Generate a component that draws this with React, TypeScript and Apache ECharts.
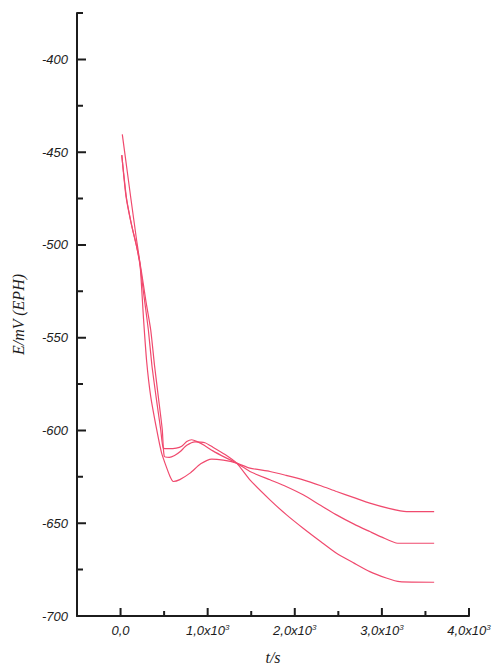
import React, { useEffect, useRef } from 'react';
import * as echarts from 'echarts';

// t (s), E (mV)
const curveA: [number, number][] = [
  [20, -440.4], [70, -458], [120, -475.5], [180, -496], [224, -510.6], [264, -540], [300, -563],
  [346, -581.6], [415, -599.6], [470, -612], [510, -617.6], [568, -624.8], [605, -627.5], [680, -626.5],
  [797, -623], [920, -618], [1046, -615.4], [1180, -616], [1333, -617.6], [1485, -620.3], [1715, -622.1],
  [1900, -624.2], [2096, -626.6], [2300, -629.8], [2479, -632.9], [2680, -636.2], [2861, -639.2],
  [3080, -642], [3282, -643.7], [3600, -643.7],
];
const curveB: [number, number][] = [
  [14, -451.6], [63, -474], [120, -488], [180, -500], [224, -511], [270, -528], [319, -545.7],
  [360, -565], [407, -581.6], [461, -599.6], [491, -609.5], [550, -609.8], [640, -609.5], [702, -608.5],
  [760, -606], [816, -605], [880, -606], [960, -608], [1060, -611], [1200, -614.5], [1333, -617.6],
  [1485, -622.1], [1715, -626.6], [1900, -630.2], [2096, -634.7], [2300, -640.5], [2479, -645.5],
  [2680, -650.5], [2861, -654.5], [3000, -657.5], [3182, -660.8], [3600, -660.8],
];
const curveC: [number, number][] = [
  [14, -451.6], [69, -475], [130, -490], [190, -502], [235, -513], [290, -530], [346, -545.7], [390, -565],
  [433, -581.6], [479, -599.6], [502, -614], [560, -614.5], [620, -613.5], [682, -611.5], [760, -608],
  [854, -606.1], [969, -606.6], [1060, -609], [1200, -613], [1333, -617.6], [1485, -626.6], [1715, -637.4],
  [1906, -645.5], [2096, -652.7], [2300, -660], [2479, -666.2], [2680, -671.5], [2861, -676.1],
  [3050, -679.5], [3205, -681.5], [3600, -681.8],
];

const yMajor = [-700, -650, -600, -550, -500, -450, -400];
const yMinor = [-675, -625, -575, -525, -475, -425, -375];
const xMajor = [0, 1000, 2000, 3000, 4000];
const xMinor = [500, 1500, 2500, 3500];

const X_MIN = -500;
const X_MAX = 4000;
const Y_MIN = -700;
const Y_MAX = -375;

export default function App() {
  const ref = useRef<HTMLDivElement>(null);
  useEffect(() => {
    const chart = echarts.init(ref.current!, null, { renderer: 'svg' });
    const axisColor = '#1c1c1c';
    const sans = '"Liberation Sans", Arial, sans-serif';
    const serif = '"Liberation Serif", "Times New Roman", serif';
    const lineColor = '#f04a6e';

    const L = 77, R = 24, T = 13, B = 50;
    const W = 493 - L - R;
    const H = 666 - T - B;
    // tick lengths in px converted to data units of the perpendicular axis
    const pxToY = (px: number) => (px * (Y_MAX - Y_MIN)) / H;
    const pxToX = (px: number) => (px * (X_MAX - X_MIN)) / W;

    const xTicks = (vals: number[], px: number) =>
      vals.flatMap((v) => [[v, Y_MIN], [v, Y_MIN + pxToY(px)], [v, '-']]);
    const yTicks = (vals: number[], px: number) =>
      vals.flatMap((v) => [[X_MIN, v], [X_MIN + pxToX(px), v], ['-', v]]);

    const tickSeries = (data: any[], name: string) => ({
      name,
      type: 'line',
      data,
      showSymbol: false,
      connectNulls: false,
      clip: false,
      silent: true,
      lineStyle: { color: axisColor, width: 2 },
      z: 5,
    });

    chart.setOption({
      animation: false,
      backgroundColor: '#ffffff',
      grid: { left: L, right: R, top: T, bottom: B, containLabel: false, outerBoundsMode: 'none' },
      xAxis: {
        type: 'value', min: X_MIN, max: X_MAX, position: 'bottom',
        axisLine: { show: true, onZero: false, lineStyle: { color: axisColor, width: 2 } },
        axisTick: { show: false },
        axisLabel: {
          customValues: xMajor, margin: 7,
          formatter: (v: number) => (v === 0 ? '{b|0,0}' : `{b|${v / 1000},0x10}{s|3}`),
          rich: {
            b: { fontFamily: sans, fontStyle: 'italic', fontSize: 13, color: axisColor, lineHeight: 15 },
            s: { fontFamily: sans, fontStyle: 'italic', fontSize: 8, color: axisColor, lineHeight: 7, verticalAlign: 'top' },
          },
        },
        splitLine: { show: false },
        name: 't/s', nameLocation: 'middle', nameGap: 33,
        nameTextStyle: { fontFamily: serif, fontStyle: 'italic', fontSize: 16, color: axisColor },
      },
      yAxis: {
        type: 'value', min: Y_MIN, max: Y_MAX, position: 'left',
        axisLine: { show: true, onZero: false, lineStyle: { color: axisColor, width: 2 } },
        axisTick: { show: false },
        axisLabel: { customValues: yMajor, margin: 9, fontFamily: sans, fontStyle: 'italic', fontSize: 13, color: axisColor },
        splitLine: { show: false },
        name: 'E/mV (EPH)', nameLocation: 'middle', nameGap: 51, nameRotate: 90,
        nameTextStyle: { fontFamily: serif, fontStyle: 'italic', fontSize: 16, color: axisColor },
      },
      series: [
        ...[curveA, curveB, curveC].map((d, i) => ({
          name: `curve${i + 1}`,
          type: 'line',
          data: d,
          showSymbol: false,
          smooth: 0.2,
          lineStyle: { color: lineColor, width: 1.2 },
          z: 3,
        })),
        tickSeries(xTicks(xMajor, 8), 'xMajorTicks'),
        tickSeries(xTicks(xMinor, 5), 'xMinorTicks'),
        tickSeries(yTicks(yMajor, 9), 'yMajorTicks'),
        tickSeries(yTicks(yMinor, 6), 'yMinorTicks'),
      ],
    });
    return () => chart.dispose();
  }, []);
  return <div ref={ref} style={{ position: 'fixed', left: 0, top: 0, width: 493, height: 666 }} />;
}
